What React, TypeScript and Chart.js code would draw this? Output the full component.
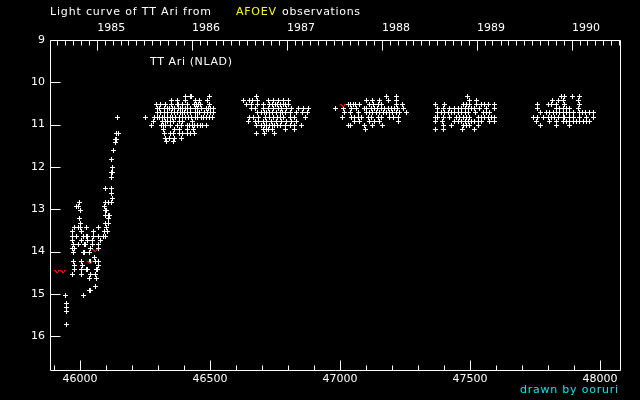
import React, { useEffect, useRef } from "react";
import { Chart, registerables } from "chart.js";

Chart.register(...registerables);

// ---- axis ranges / tick labels ----
const X_MIN = 45885;
const X_MAX = 48077;
const Y_MIN = 9;
const Y_MAX = 16.8;

const xLabelTicks = [46000, 46500, 47000, 47500, 48000];
const xMinorTicks = [45900, 46100, 46200, 46300, 46400, 46600, 46700, 46800, 46900, 47100, 47200, 47300, 47400, 47600, 47700, 47800, 47900];
const yLabelTicks = [9, 10, 11, 12, 13, 14, 15, 16];
const yearLabels = ["1985", "1986", "1987", "1988", "1989", "1990"];

// ---- observations: [magnitude, [JD-2400000, ...]] rows ----
const riseRows: [number, number[]][] = [
  [10.83, [46144]],
  [11.22, [46140, 46148]],
  [11.34, [46135, 46139]],
  [11.43, [46135]],
  [11.62, [46131]],
  [11.83, [46123]],
  [12.02, [46126]],
  [12.12, [46122, 46126]],
  [12.24, [46121]],
  [12.52, [46100, 46123]],
  [12.63, [46120]],
  [12.74, [46124]],
  [12.83, [46000, 46100, 46111, 46120]],
  [12.93, [45987, 45995, 46093]],
  [13.02, [46003, 46097, 46104]],
  [13.14, [46097, 46110, 46113]],
  [13.23, [45997, 46110]],
  [13.33, [46003, 46097, 46110]],
  [13.42, [45980, 45995, 46001, 46027, 46073, 46104]],
  [13.52, [45970, 46008, 46054, 46093, 46108]],
  [13.64, [45970, 45985, 46012, 46027, 46031, 46054, 46070, 46089, 46097]],
  [13.73, [45973, 46008, 46031, 46050, 46081]],
  [13.83, [45976, 45993, 46016, 46021, 46050, 46070]],
  [13.92, [45972, 45981, 46039, 46070]],
  [14.02, [45977, 46012, 46017, 46035]],
  [14.13, [46058]],
  [14.23, [45977, 46008, 46036, 46040, 46061, 46071]],
  [14.32, [45981, 46010, 46073]],
  [14.42, [45980, 46008, 46026, 46031, 46063, 46069]],
  [14.54, [45970, 46008, 46039, 46060]],
  [14.63, [46035, 46062]],
  [14.82, [46059]],
  [14.92, [46036, 46040]],
  [15.03, [45943, 46012]],
  [15.22, [45947]],
  [15.32, [45947]],
  [15.41, [45950]],
  [15.72, [45950]],
];

const season1986: [number, number[]][] = [
  [10.34, [46408, 46427, 46430, 46497]],
  [10.43, [46351, 46374, 46408, 46443, 46460, 46489]],
  [10.53, [46293, 46309, 46329, 46354, 46376, 46379, 46394, 46412, 46440, 46448, 46456, 46465, 46498]],
  [10.62, [46299, 46307, 46325, 46335, 46345, 46356, 46363, 46379, 46386, 46394, 46408, 46415, 46425, 46443, 46453, 46466, 46485, 46494, 46504, 46515]],
  [10.72, [46299, 46310, 46325, 46338, 46351, 46363, 46374, 46386, 46395, 46404, 46415, 46425, 46443, 46451, 46460, 46481, 46492, 46502, 46515]],
  [10.83, [46251, 46286, 46297, 46307, 46317, 46327, 46338, 46348, 46358, 46368, 46383, 46395, 46408, 46418, 46430, 46443, 46453, 46466, 46474, 46485, 46497, 46510]],
  [10.92, [46284, 46318, 46328, 46338, 46348, 46360, 46383, 46395, 46434]],
  [11.02, [46276, 46312, 46322, 46331, 46350, 46376, 46389, 46412, 46422, 46432, 46442, 46452, 46462, 46472, 46485]],
  [11.11, [46322, 46363, 46383, 46415, 46438]],
  [11.21, [46327, 46350, 46361, 46383, 46395, 46415, 46425, 46440]],
  [11.32, [46331, 46344, 46363, 46389]],
  [11.41, [46334, 46361]],
];

const season1987: [number, number[]][] = [
  [10.34, [46680]],
  [10.43, [46629, 46654, 46663, 46684, 46725, 46744, 46763, 46783, 46802]],
  [10.53, [46641, 46661, 46684, 46706, 46731, 46741, 46751, 46761, 46771, 46782, 46792, 46802]],
  [10.62, [46658, 46676, 46706, 46725, 46744, 46763, 46776, 46795, 46815, 46840, 46860, 46879]],
  [10.72, [46684, 46699, 46709, 46719, 46729, 46739, 46757, 46770, 46780, 46790, 46808, 46834, 46856, 46876]],
  [10.83, [46654, 46667, 46686, 46712, 46731, 46744, 46760, 46770, 46783, 46808, 46827, 46866]],
  [10.92, [46648, 46674, 46686, 46706, 46718, 46738, 46757, 46776, 46795, 46815, 46834]],
  [11.02, [46680, 46699, 46709, 46719, 46729, 46739, 46750, 46760, 46770, 46789, 46808, 46827, 46853]],
  [11.11, [46706, 46716, 46727, 46741, 46789, 46827]],
  [11.21, [46680, 46709, 46750]],
];

const season1988: [number, number[]][] = [
  [10.34, [47179, 47217]],
  [10.43, [47104, 47127, 47153, 47185, 47217]],
  [10.53, [47031, 47041, 47051, 47061, 47076, 47115, 47128, 47147, 47160, 47217, 47240]],
  [10.62, [46984, 47015, 47044, 47063, 47095, 47104, 47121, 47133, 47146, 47159, 47172, 47185, 47198, 47211, 47223, 47243]],
  [10.72, [47018, 47040, 47070, 47102, 47114, 47127, 47140, 47153, 47166, 47179, 47191, 47204, 47217, 47230, 47256]],
  [10.83, [47010, 47044, 47057, 47070, 47083, 47108, 47121, 47147, 47160, 47189, 47207, 47224]],
  [10.92, [47057, 47076, 47115, 47134, 47153, 47224]],
  [11.02, [47031, 47040, 47095, 47125, 47162]],
  [11.11, [47098]],
];

const season1989: [number, number[]][] = [
  [10.34, [47489]],
  [10.43, [47497, 47527]],
  [10.53, [47367, 47401, 47474, 47487, 47499, 47525, 47544, 47557, 47570, 47595]],
  [10.62, [47375, 47397, 47422, 47442, 47455, 47468, 47481, 47494, 47507, 47519, 47538, 47563, 47595]],
  [10.72, [47377, 47390, 47403, 47416, 47429, 47442, 47455, 47468, 47481, 47493, 47521, 47551, 47564, 47576]],
  [10.83, [47367, 47377, 47397, 47422, 47448, 47461, 47474, 47487, 47499, 47531, 47544, 47557, 47570, 47583, 47595]],
  [10.92, [47367, 47393, 47442, 47455, 47468, 47481, 47494, 47507, 47519, 47532, 47545, 47576, 47595]],
  [11.02, [47397, 47429, 47474, 47487, 47499, 47531]],
  [11.11, [47367, 47397, 47470, 47516]],
];

const season1990: [number, number[]][] = [
  [10.34, [47852, 47862, 47894, 47922]],
  [10.43, [47817, 47839, 47858, 47916]],
  [10.53, [47758, 47801, 47814, 47833, 47865, 47922]],
  [10.62, [47758, 47833, 47846, 47859, 47872, 47884, 47916]],
  [10.72, [47772, 47794, 47807, 47820, 47833, 47846, 47858, 47871, 47884, 47897, 47920, 47933, 47946, 47959, 47974]],
  [10.83, [47745, 47758, 47781, 47801, 47814, 47827, 47839, 47858, 47865, 47884, 47897, 47922, 47948, 47974]],
  [10.92, [47756, 47807, 47833, 47858, 47871, 47884, 47897, 47910, 47922, 47935, 47948, 47961]],
  [11.02, [47772, 47833, 47884]],
];

// fainter-than estimates (red "v")
const limitDays = [45912, 45935, 46039, 46058, 47012];
const limitMags = [14.48, 14.48, 14.25, 13.97, 10.55];

const toPoints = (rows: [number, number[]][]) =>
  rows.flatMap(([m, ds]) => ds.map((d) => ({ x: d, y: m })));

const jdOf = (y: number, m: number) => Date.UTC(y, m, 1) / 86400000 + 40587.5;

const FONT = "DejaVu Sans";

function makeCross(): HTMLCanvasElement {
  const c = document.createElement("canvas");
  c.width = 5;
  c.height = 5;
  const g = c.getContext("2d")!;
  g.fillStyle = "#ffffff";
  g.fillRect(2, 0, 1, 5);
  g.fillRect(0, 2, 5, 1);
  return c;
}

function makeVee(): HTMLCanvasElement {
  const c = document.createElement("canvas");
  c.width = 6;
  c.height = 3;
  const g = c.getContext("2d")!;
  g.fillStyle = "#ff0000";
  g.fillRect(0, 0, 2, 1);
  g.fillRect(4, 0, 2, 1);
  g.fillRect(1, 1, 4, 1);
  g.fillRect(2, 2, 2, 1);
  g.clearRect(2.5, 1, 1, 1);
  g.fillRect(1, 1, 1, 1);
  g.fillRect(4, 1, 1, 1);
  return c;
}

function fitText(ctx: CanvasRenderingContext2D, text: string, x: number, y: number, w: number) {
  (ctx as any).letterSpacing = "0px";
  const m = ctx.measureText(text).width;
  const ls = (w - m) / Math.max(1, text.length - 1);
  (ctx as any).letterSpacing = `${ls.toFixed(2)}px`;
  ctx.fillText(text, x, y);
  (ctx as any).letterSpacing = "0px";
}

export default function App() {
  const ref = useRef<HTMLCanvasElement>(null);

  useEffect(() => {
    const canvas = ref.current;
    if (!canvas) return;

    const yearTicks = yearLabels.map((y) => jdOf(Number(y), 0));
    const monthTicks: number[] = [];
    for (let y = 1984; y <= 1990; y++) {
      for (let m = 1; m < 12; m++) {
        const v = jdOf(y, m);
        if (v > X_MIN && v < X_MAX) monthTicks.push(v);
      }
    }

    const cross = makeCross();
    const vee = makeVee();

    const allObs = [
      ...toPoints(riseRows),
      ...toPoints(season1986),
      ...toPoints(season1987),
      ...toPoints(season1988),
      ...toPoints(season1989),
      ...toPoints(season1990),
    ];
    const limits = limitDays.map((d, i) => ({ x: d, y: limitMags[i] }));

    const decor = {
      id: "decor",
      beforeDraw(chart: any) {
        const ctx = chart.ctx;
        ctx.save();
        ctx.fillStyle = "#000";
        ctx.fillRect(0, 0, chart.width, chart.height);
        ctx.restore();
      },
      beforeDatasetsDraw(chart: any) {
        chart.ctx.imageSmoothingEnabled = false;
      },
      afterDraw(chart: any) {
        const ctx = chart.ctx;
        const { left, right, top, bottom } = chart.chartArea;
        const xs = chart.scales.x;
        const ys = chart.scales.y;
        const p = (v: number) => Math.round(v) + 0.5;
        const L = p(left), R = p(right), T = p(top), B = p(bottom);
        ctx.save();
        ctx.strokeStyle = "#ffffff";
        ctx.lineWidth = 1;
        ctx.beginPath();
        ctx.moveTo(L, T); ctx.lineTo(R, T); ctx.lineTo(R, B); ctx.lineTo(L, B); ctx.closePath();
        xLabelTicks.forEach((v) => {
          const x = p(xs.getPixelForValue(v));
          ctx.moveTo(x, B); ctx.lineTo(x, B - 10);
        });
        xMinorTicks.forEach((v) => {
          const x = p(xs.getPixelForValue(v));
          ctx.moveTo(x, B); ctx.lineTo(x, B - 5);
        });
        yearTicks.forEach((v) => {
          const x = p(xs.getPixelForValue(v));
          ctx.moveTo(x, T); ctx.lineTo(x, T + 10);
        });
        monthTicks.forEach((v) => {
          const x = p(xs.getPixelForValue(v));
          ctx.moveTo(x, T); ctx.lineTo(x, T + 5);
        });
        yLabelTicks.forEach((v) => {
          const y = p(ys.getPixelForValue(v));
          ctx.moveTo(L, y); ctx.lineTo(L + 10, y);
        });
        ctx.stroke();

        ctx.font = `11px "${FONT}"`;
        ctx.textBaseline = "middle";
        ctx.textAlign = "left";
        ctx.fillStyle = "#ffffff";
        fitText(ctx, "Light curve of TT Ari from", 50, 12.5, 161);
        ctx.fillStyle = "#ffff00";
        fitText(ctx, "AFOEV", 236, 12.5, 40);
        ctx.fillStyle = "#ffffff";
        fitText(ctx, "observations", 282, 12.5, 78);
        fitText(ctx, "TT Ari (NLAD)", 150, 62, 82);
        ctx.fillStyle = "#00e8ef";
        fitText(ctx, "drawn by ooruri", 520, 390, 98);
        ctx.restore();
      },
    };

    const tickFont = { family: FONT, size: 11 };

    const chart = new Chart(canvas, {
      type: "scatter",
      data: {
        datasets: [
          {
            label: "obs",
            data: allObs,
            order: 1,
            pointStyle: cross as any,
            pointRadius: 2.5,
            pointHoverRadius: 2.5,
            backgroundColor: "#fff",
            borderColor: "#fff",
            xAxisID: "x",
            yAxisID: "y",
          },
          {
            label: "fainter than",
            data: limits,
            order: 0,
            pointStyle: vee as any,
            pointRadius: 3,
            pointHoverRadius: 3,
            backgroundColor: "#f00",
            borderColor: "#f00",
            xAxisID: "x",
            yAxisID: "y",
          },
        ],
      },
      options: {
        responsive: false,
        animation: false,
        events: [],
        layout: { padding: { left: 0, right: 20, top: 0, bottom: 0 } },
        plugins: {
          legend: { display: false },
          tooltip: { enabled: false },
          title: { display: false },
        },
        scales: {
          x: {
            type: "linear",
            position: "bottom",
            min: X_MIN,
            max: X_MAX,
            grid: { display: false, drawTicks: false },
            border: { display: false },
            afterBuildTicks: (s: any) => {
              s.ticks = xLabelTicks.map((v) => ({ value: v }));
            },
            afterFit: (s: any) => {
              s.height = 30;
            },
            ticks: {
              color: "#fff",
              font: tickFont,
              padding: 3,
              maxRotation: 0,
              minRotation: 0,
              autoSkip: false,
              callback: (v: any) => String(v),
            },
          },
          xTop: {
            type: "linear",
            position: "top",
            min: X_MIN,
            max: X_MAX,
            grid: { display: false, drawTicks: false },
            border: { display: false },
            afterBuildTicks: (s: any) => {
              s.ticks = yearTicks.map((v) => ({ value: v }));
            },
            afterFit: (s: any) => {
              s.height = 40;
            },
            ticks: {
              color: "#fff",
              font: tickFont,
              padding: 5,
              align: "start",
              maxRotation: 0,
              minRotation: 0,
              autoSkip: false,
              callback: (_v: any, i: number) => yearLabels[i],
            },
          },
          y: {
            type: "linear",
            position: "left",
            reverse: true,
            min: Y_MIN,
            max: Y_MAX,
            grid: { display: false, drawTicks: false },
            border: { display: false },
            afterBuildTicks: (s: any) => {
              s.ticks = yLabelTicks.map((v) => ({ value: v }));
            },
            afterFit: (s: any) => {
              s.width = 50;
            },
            ticks: {
              color: "#fff",
              font: tickFont,
              padding: 5,
              autoSkip: false,
              callback: (v: any) => String(v),
            },
          },
        },
      } as any,
      plugins: [decor],
    });

    return () => chart.destroy();
  }, []);

  return (
    <div style={{ position: "absolute", left: 0, top: 0, width: 640, height: 400, background: "#000" }}>
      <canvas ref={ref} width={640} height={400} style={{ display: "block", width: 640, height: 400 }} />
    </div>
  );
}
